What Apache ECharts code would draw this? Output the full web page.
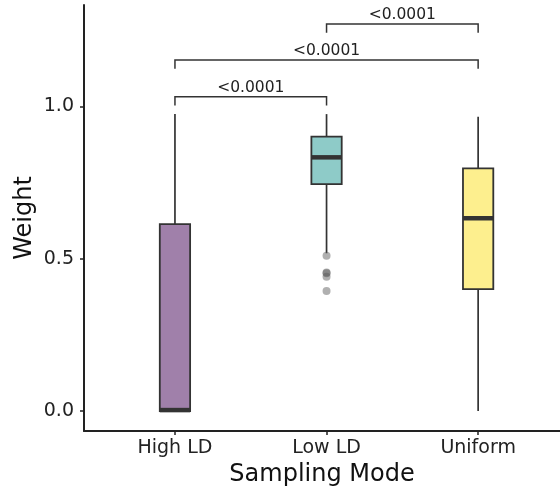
<!DOCTYPE html>
<html>
<head>
<meta charset="utf-8">
<script src="https://cdn.jsdelivr.net/npm/echarts@6/dist/echarts.min.js"></script>
<style>
  html, body { margin: 0; padding: 0; background: #fff; }
  #chart { width: 560px; height: 488px; }
</style>
</head>
<body>
<div id="chart"></div>
<script>
// Box-plot summaries per sampling mode
const categories = ['High LD', 'Low LD', 'Uniform'];
const lowerWhisker = [0.0, 0.518, 0.0];
const q1 = [0.0, 0.745, 0.400];
const median = [0.003, 0.833, 0.633];
const q3 = [0.614, 0.901, 0.797];
const upperWhisker = [0.975, 0.975, 0.966];
const fills = ['#a080aa', '#8ecbc8', '#fdef8e'];

// Outlying points (category index, weight)
const outlierCategory = [1, 1, 1, 1, 1];
const outlierWeight = [0.510, 0.455, 0.452, 0.441, 0.394];

// Pairwise comparisons drawn as brackets
const pairFrom = [0, 0, 1];
const pairTo = [1, 2, 2];
const bracketHeight = [1.032, 1.153, 1.271];
const pLabels = ['<0.0001', '<0.0001', '<0.0001'];

const yTicks = [0, 0.5, 1.0];
const tip = 0.029;
const boxWidth = 0.2;
const ink = '#333333';
const font = 'DejaVu Sans';

const boxData = categories.map((c, i) => [i + 1, lowerWhisker[i], q1[i], median[i], q3[i], upperWhisker[i]]);
const outlierData = outlierCategory.map((c, i) => [c + 1, outlierWeight[i]]);
const bracketData = pairFrom.map((a, i) => [a + 1, pairTo[i] + 1, bracketHeight[i], i]);

const chart = echarts.init(document.getElementById('chart'), null, { renderer: 'canvas' });

chart.setOption({
  animation: false,
  backgroundColor: '#ffffff',
  textStyle: { fontFamily: font },
  grid: { left: 84, top: 5, right: 0, bottom: 57, containLabel: false, outerBoundsMode: 'none' },
  xAxis: {
    type: 'value',
    min: 0.4,
    max: 3.54,
    name: 'Sampling Mode',
    nameLocation: 'middle',
    nameGap: 30,
    nameTextStyle: { fontSize: 24, color: '#111', fontFamily: font },
    splitLine: { show: false },
    axisLine: { show: true, onZero: false, lineStyle: { color: '#222', width: 2 } },
    axisTick: { show: true, customValues: [1, 2, 3], length: 4, lineStyle: { color: '#222', width: 1.5 } },
    axisLabel: {
      customValues: [1, 2, 3],
      formatter: v => categories[Math.round(v) - 1],
      fontSize: 19, color: '#222', margin: 8, fontFamily: font
    }
  },
  yAxis: {
    type: 'value',
    min: -0.0657,
    max: 1.3333,
    name: 'Weight',
    nameLocation: 'middle',
    nameGap: 47,
    nameMoveOverlap: false,
    nameTextStyle: { fontSize: 24, color: '#111', fontFamily: font },
    splitLine: { show: false },
    axisLine: { show: true, onZero: false, lineStyle: { color: '#222', width: 2 } },
    axisTick: { show: true, customValues: yTicks, length: 4, lineStyle: { color: '#222', width: 1.5 } },
    axisLabel: {
      customValues: yTicks,
      formatter: v => v.toFixed(1),
      fontSize: 19, color: '#222', margin: 10, fontFamily: font
    }
  },
  series: [
    {
      type: 'custom',
      name: 'boxes',
      data: boxData,
      encode: { x: 0, y: [1, 2, 3, 4, 5] },
      renderItem: function (params, api) {
        const x = api.value(0);
        const i = Math.round(x) - 1;
        const half = api.size([boxWidth / 2, 0])[0];
        const pLow = api.coord([x, api.value(1)]);
        const pQ1 = api.coord([x, api.value(2)]);
        const pMed = api.coord([x, api.value(3)]);
        const pQ3 = api.coord([x, api.value(4)]);
        const pHigh = api.coord([x, api.value(5)]);
        const cx = pQ1[0];
        const lineStyle = { stroke: ink, lineWidth: 1.7 };
        return {
          type: 'group',
          children: [
            { type: 'line', shape: { x1: cx, y1: pQ3[1], x2: cx, y2: pHigh[1] }, style: lineStyle },
            { type: 'line', shape: { x1: cx, y1: pLow[1], x2: cx, y2: pQ1[1] }, style: lineStyle },
            {
              type: 'rect',
              shape: { x: cx - half, y: pQ3[1], width: half * 2, height: pQ1[1] - pQ3[1] },
              style: { fill: fills[i], stroke: ink, lineWidth: 1.8 }
            },
            {
              type: 'line',
              shape: { x1: cx - half, y1: pMed[1], x2: cx + half, y2: pMed[1] },
              style: { stroke: ink, lineWidth: 4.5 }
            }
          ]
        };
      },
      z: 2
    },
    {
      type: 'scatter',
      name: 'outliers',
      data: outlierData,
      symbol: 'circle',
      symbolSize: 8,
      itemStyle: { color: 'rgba(90,90,90,0.6)' },
      z: 3
    },
    {
      type: 'custom',
      name: 'brackets',
      data: bracketData,
      encode: { x: [0, 1], y: 2 },
      renderItem: function (params, api) {
        const a = api.value(0), b = api.value(1), h = api.value(2);
        const k = Math.round(api.value(3));
        const pA = api.coord([a, h]);
        const pB = api.coord([b, h]);
        const tA = api.coord([a, h - tip]);
        const tB = api.coord([b, h - tip]);
        return {
          type: 'group',
          children: [
            {
              type: 'polyline',
              shape: { points: [tA, pA, pB, tB] },
              style: { stroke: ink, lineWidth: 1.5, fill: null }
            },
            {
              type: 'text',
              style: {
                text: pLabels[k],
                x: (pA[0] + pB[0]) / 2,
                y: pA[1] - 1,
                align: 'center',
                verticalAlign: 'bottom',
                fontSize: 15.5,
                fontFamily: font,
                fill: '#222'
              }
            }
          ]
        };
      },
      z: 4
    }
  ]
});
</script>
</body>
</html>
